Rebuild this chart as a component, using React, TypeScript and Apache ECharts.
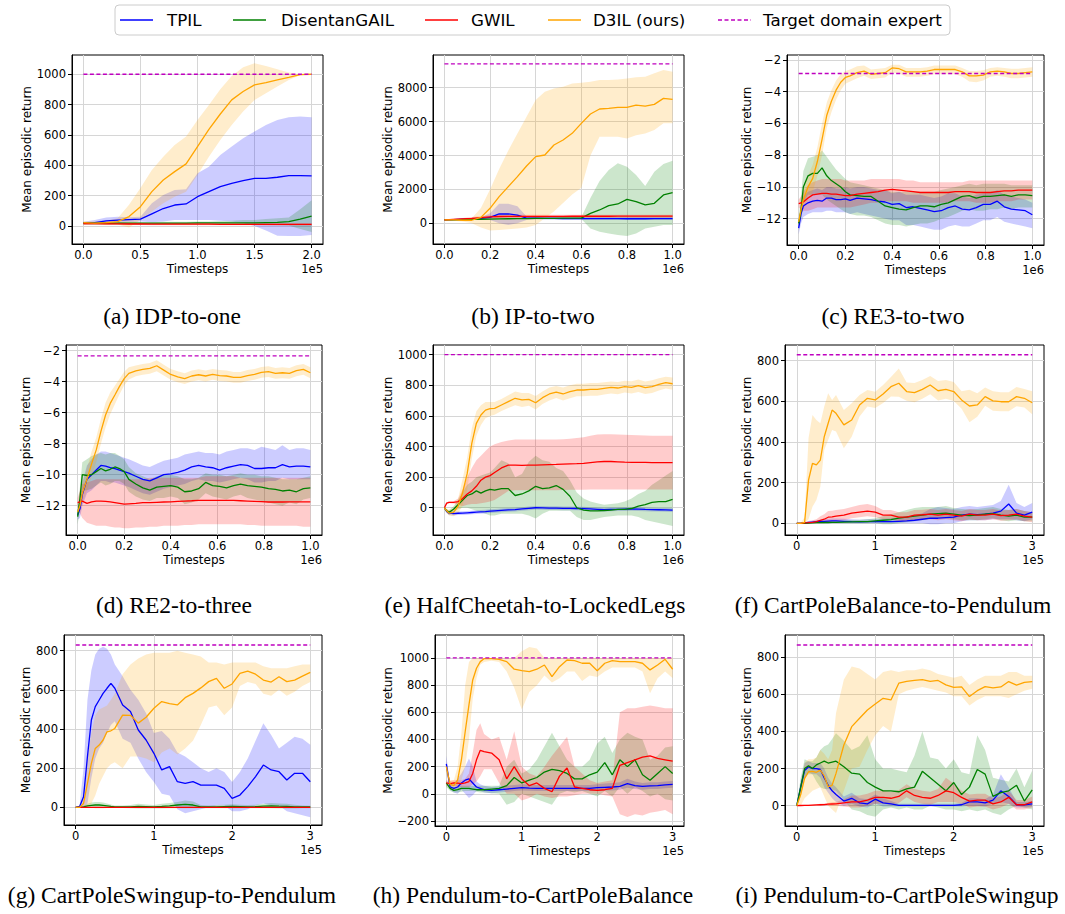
import React, { useEffect, useRef } from "react";
import * as echarts from "echarts";

// ---------------- DATA ----------------
const METHODS = ["TPIL", "DisentanGAIL", "GWIL", "D3IL (ours)"];
const TARGET_LABEL = "Target domain expert";

// (a) IDP-to-one, x in 1e5
const XA = [0, 0.1, 0.2, 0.3, 0.4, 0.5, 0.6, 0.7, 0.8, 0.9, 1.0, 1.1, 1.2, 1.3, 1.4, 1.5, 1.6, 1.7, 1.8, 1.9, 2.0];
const A_TPIL = [22, 22, 33, 38, 42, 45, 80, 115, 138, 145, 193, 226, 259, 281, 299, 314, 314, 321, 332, 332, 330];
const A_TPIL_LO = [10, 10, 15, 20, 25, 30, 25, 30, 40, 40, 40, 40, 35, 30, 20, 0, -30, -65, -66, -66, -60];
const A_TPIL_HI = [28, 40, 55, 60, 58, 60, 150, 204, 237, 242, 347, 391, 468, 523, 578, 622, 666, 699, 716, 721, 716];
const A_DIS = [18, 18, 18, 18, 18, 18, 18, 19, 19, 19, 20, 20, 20, 20, 20, 20, 22, 24, 28, 45, 65];
const A_DIS_LO = [10, 10, 10, 10, 10, 10, 10, 10, 10, 10, 10, 10, 10, 10, 10, 8, 6, 5, 3, -20, -40];
const A_DIS_HI = [25, 25, 25, 25, 25, 25, 25, 27, 28, 28, 30, 30, 32, 35, 40, 40, 45, 50, 55, 110, 170];
const A_GWIL = [15, 15, 14, 14, 13, 13, 12, 12, 12, 12, 12, 12, 11, 11, 11, 11, 10, 10, 10, 10, 10];
const A_GWIL_LO = [8, 8, 7, 7, 6, 6, 5, 5, 5, 5, 5, 5, 4, 4, 4, 4, 3, 3, 3, 3, 3];
const A_GWIL_HI = [22, 22, 21, 21, 20, 20, 19, 19, 19, 19, 19, 19, 18, 18, 18, 18, 17, 17, 17, 17, 17];
const A_D3IL = [22, 18, 22, 29, 62, 127, 226, 303, 358, 409, 523, 637, 738, 831, 886, 930, 945, 963, 980, 998, 1000];
const A_D3IL_LO = [10, 10, 10, 10, -10, 40, 95, 150, 193, 226, 336, 457, 567, 666, 754, 831, 875, 919, 963, 993, 1000];
const A_D3IL_HI = [30, 30, 35, 50, 140, 250, 369, 457, 534, 589, 699, 798, 901, 989, 1046, 1073, 1055, 1033, 1011, 1000, 1000];
const A_TARGET = 1000;

// (b) IP-to-two, x in 1e6
const XB = [0, 0.04, 0.08, 0.12, 0.16, 0.2, 0.24, 0.28, 0.32, 0.36, 0.4, 0.44, 0.48, 0.52, 0.56, 0.6, 0.64, 0.68, 0.72, 0.76, 0.8, 0.84, 0.88, 0.92, 0.96, 1.0];
const B_TPIL = [200, 220, 240, 260, 290, 350, 550, 560, 480, 300, 300, 290, 290, 280, 280, 280, 280, 280, 275, 275, 270, 270, 270, 275, 280, 280];
const B_TPIL_LO = [180, 200, 210, 220, 230, 200, 0, -100, 0, 200, 220, 210, 210, 200, 200, 200, 200, 200, 195, 195, 190, 190, 190, 195, 200, 200];
const B_TPIL_HI = [220, 240, 270, 300, 350, 600, 1150, 1150, 1000, 400, 380, 370, 370, 360, 360, 360, 360, 360, 355, 355, 350, 350, 350, 355, 360, 360];
const B_DIS = [200, 210, 220, 230, 240, 250, 260, 270, 280, 280, 285, 290, 295, 300, 300, 310, 590, 786, 1042, 1140, 1415, 1278, 1081, 1179, 1671, 1808];
const B_DIS_LO = [180, 190, 200, 210, 220, 220, 230, 240, 250, 250, 250, 250, 260, 260, 260, 250, -300, -500, -600, -688, -750, -600, -300, -200, -100, -100];
const B_DIS_HI = [220, 230, 240, 250, 260, 280, 290, 300, 310, 310, 320, 330, 330, 340, 340, 360, 1500, 2500, 3145, 3538, 3341, 2850, 2200, 3046, 3500, 3695];
const B_GWIL = [200, 230, 260, 290, 330, 380, 400, 410, 410, 410, 410, 410, 410, 410, 415, 415, 415, 415, 415, 420, 420, 420, 420, 420, 420, 420];
const B_GWIL_LO = [170, 190, 200, 210, 240, 290, 310, 320, 320, 320, 320, 320, 320, 320, 325, 325, 325, 325, 325, 330, 330, 330, 330, 330, 330, 330];
const B_GWIL_HI = [230, 270, 320, 370, 420, 470, 490, 500, 500, 500, 500, 500, 500, 500, 505, 505, 505, 505, 505, 510, 510, 510, 510, 510, 510, 510];
const B_D3IL = [200, 200, 180, 180, 350, 885, 1572, 2162, 2752, 3381, 3931, 4030, 4619, 4914, 5307, 5897, 6447, 6742, 6781, 6840, 6840, 6978, 6919, 7017, 7371, 7310];
const B_D3IL_LO = [150, 150, 100, 0, -250, -420, -400, -350, -300, -250, -100, 300, 700, 1200, 1700, 2100, 4000, 5100, 5100, 5100, 5000, 5200, 5300, 5500, 5900, 5900];
const B_D3IL_HI = [250, 250, 250, 300, 900, 2000, 3200, 4300, 5300, 6290, 7273, 7764, 7960, 8059, 8255, 8294, 8353, 8452, 8452, 8491, 8550, 8609, 8648, 8845, 9042, 8943];
const B_TARGET = 9400;

// (c) RE3-to-two, (d) RE2-to-three, (e) HalfCheetah-to-LockedLegs, x in 1e6
const XC = [0, 0.01, 0.02, 0.04, 0.06, 0.08, 0.1, 0.12, 0.14, 0.16, 0.18, 0.2, 0.22, 0.25, 0.28, 0.31, 0.34, 0.37, 0.4, 0.43, 0.46, 0.49, 0.52, 0.55, 0.58, 0.61, 0.64, 0.67, 0.7, 0.73, 0.76, 0.79, 0.82, 0.85, 0.88, 0.91, 0.94, 0.97, 1.0];

const C_TPIL = [-12.6, -11.7, -11.2, -11.0, -10.9, -10.85, -10.9, -10.7, -10.7, -10.8, -10.8, -10.75, -10.85, -10.7, -10.75, -10.8, -10.9, -10.95, -11.1, -11.05, -11.3, -11.25, -11.35, -11.45, -11.55, -11.5, -11.3, -11.2, -11.4, -11.45, -11.3, -11.1, -11.1, -10.9, -11.25, -11.4, -11.45, -11.5, -11.75];
const C_TPIL_LO = [-13.0, -12.3, -11.9, -11.7, -11.6, -11.6, -11.6, -11.5, -11.5, -11.6, -11.6, -11.6, -11.7, -11.6, -11.7, -11.8, -11.9, -12.0, -12.1, -12.1, -12.4, -12.4, -12.5, -12.6, -12.7, -12.7, -12.5, -12.4, -12.5, -12.5, -12.3, -12.1, -12.1, -11.9, -12.2, -12.3, -12.4, -12.5, -12.6];
const C_TPIL_HI = [-12.3, -11.2, -10.6, -10.3, -10.2, -10.1, -10.2, -10.0, -10.0, -10.1, -10.1, -10.0, -10.1, -10.0, -10.0, -10.1, -10.2, -10.2, -10.4, -10.3, -10.5, -10.5, -10.5, -10.6, -10.7, -10.6, -10.4, -10.4, -10.6, -10.7, -10.5, -10.4, -10.4, -10.2, -10.5, -10.6, -10.7, -10.8, -11.0];
const C_DIS = [-12.3, -11.5, -10.0, -9.3, -9.15, -9.15, -8.8, -9.3, -9.6, -9.8, -10.0, -10.3, -10.5, -10.55, -10.6, -10.6, -10.9, -11.2, -11.3, -11.4, -11.45, -11.3, -11.2, -11.2, -11.25, -11.1, -11.0, -10.8, -10.6, -10.55, -10.7, -10.6, -10.6, -10.55, -10.5, -10.6, -10.5, -10.5, -10.55];
const C_DIS_LO = [-12.6, -12.0, -11.0, -10.5, -10.5, -10.5, -10.5, -10.8, -11.0, -11.2, -11.4, -11.6, -11.7, -11.8, -11.8, -11.9, -12.1, -12.3, -12.4, -12.4, -12.5, -12.4, -12.3, -12.3, -12.2, -12.0, -11.9, -11.7, -11.5, -11.4, -11.5, -11.5, -11.4, -11.4, -11.3, -11.4, -11.3, -11.3, -11.3];
const C_DIS_HI = [-12.0, -10.5, -9.0, -8.2, -8.1, -8.0, -7.7, -8.1, -8.5, -8.9, -9.2, -9.5, -9.7, -9.8, -9.9, -10.0, -10.1, -10.2, -10.3, -10.3, -10.3, -10.3, -10.3, -10.3, -10.3, -10.2, -10.1, -10.0, -9.9, -9.8, -9.9, -9.8, -9.8, -9.8, -9.8, -9.9, -9.9, -9.9, -9.9];
const C_GWIL = [-11.05, -11.0, -10.95, -10.7, -10.5, -10.45, -10.4, -10.4, -10.45, -10.45, -10.5, -10.55, -10.55, -10.45, -10.4, -10.35, -10.3, -10.2, -10.15, -10.2, -10.25, -10.3, -10.35, -10.35, -10.35, -10.35, -10.35, -10.3, -10.3, -10.3, -10.35, -10.35, -10.35, -10.3, -10.25, -10.25, -10.2, -10.2, -10.2];
const C_GWIL_LO = [-11.3, -11.4, -11.5, -11.5, -11.4, -11.3, -11.3, -11.3, -11.3, -11.3, -11.3, -11.3, -11.3, -11.2, -11.1, -11.0, -11.0, -10.9, -10.9, -10.9, -10.9, -11.0, -11.0, -11.0, -11.0, -11.0, -11.0, -10.9, -10.9, -10.9, -11.0, -11.0, -11.0, -10.9, -10.9, -10.9, -10.8, -10.8, -10.8];
const C_GWIL_HI = [-10.8, -10.6, -10.3, -9.9, -9.7, -9.6, -9.5, -9.5, -9.5, -9.5, -9.5, -9.6, -9.6, -9.6, -9.6, -9.5, -9.5, -9.5, -9.5, -9.5, -9.6, -9.6, -9.7, -9.7, -9.7, -9.7, -9.7, -9.7, -9.7, -9.6, -9.6, -9.6, -9.6, -9.6, -9.6, -9.6, -9.6, -9.6, -9.6];
const C_D3IL = [-12.2, -11.45, -10.8, -10.0, -9.46, -8.4, -7.0, -5.5, -4.6, -3.9, -3.4, -3.1, -3.0, -2.8, -2.7, -2.9, -2.85, -2.8, -2.5, -2.55, -2.75, -2.75, -2.75, -2.7, -2.6, -2.6, -2.6, -2.6, -2.75, -3.0, -3.0, -2.95, -2.75, -2.7, -2.75, -2.85, -2.85, -2.8, -2.75];
const C_D3IL_LO = [-12.5, -11.9, -11.4, -10.8, -10.3, -9.3, -8.0, -6.3, -5.3, -4.5, -3.9, -3.5, -3.35, -3.15, -3.0, -3.2, -3.15, -3.1, -2.8, -2.85, -3.05, -3.05, -3.05, -3.0, -2.9, -2.9, -2.9, -2.9, -3.05, -3.35, -3.4, -3.3, -3.05, -3.0, -3.05, -3.15, -3.15, -3.1, -3.05];
const C_D3IL_HI = [-12.0, -11.0, -10.2, -9.3, -8.6, -7.5, -6.0, -4.7, -3.9, -3.3, -2.9, -2.7, -2.6, -2.4, -2.35, -2.6, -2.55, -2.5, -2.3, -2.3, -2.5, -2.5, -2.5, -2.45, -2.35, -2.35, -2.35, -2.35, -2.5, -2.7, -2.7, -2.65, -2.5, -2.45, -2.5, -2.55, -2.55, -2.5, -2.45];
const C_TARGET = -2.85;

const D_TPIL = [-12.6, -12.2, -11.3, -10.3, -10.0, -9.7, -9.4, -9.45, -9.55, -9.6, -9.7, -9.8, -9.9, -10.1, -10.3, -10.4, -10.2, -10.0, -9.95, -9.85, -9.7, -9.5, -9.4, -9.5, -9.55, -9.7, -9.55, -9.45, -9.35, -9.4, -9.6, -9.6, -9.55, -9.55, -9.35, -9.5, -9.45, -9.45, -9.5];
const D_TPIL_LO = [-12.9, -12.8, -12.0, -11.2, -11.0, -10.7, -10.4, -10.4, -10.5, -10.5, -10.6, -10.7, -10.8, -11.0, -11.2, -11.3, -11.1, -10.9, -10.8, -10.7, -10.6, -10.4, -10.3, -10.4, -10.4, -10.5, -10.4, -10.3, -10.2, -10.3, -10.5, -10.5, -10.4, -10.4, -10.2, -10.3, -10.3, -10.3, -10.3];
const D_TPIL_HI = [-12.3, -11.6, -10.5, -9.4, -9.0, -8.7, -8.5, -8.5, -8.6, -8.7, -8.8, -8.9, -9.0, -9.2, -9.4, -9.5, -9.3, -9.1, -9.0, -8.9, -8.7, -8.6, -8.5, -8.6, -8.6, -8.7, -8.5, -8.4, -8.3, -8.3, -8.4, -8.2, -8.3, -8.4, -8.1, -8.4, -8.3, -8.3, -8.4];
const D_DIS = [-12.7, -11.5, -10.0, -10.05, -10.0, -9.8, -9.6, -9.75, -9.65, -9.5, -9.6, -9.8, -10.3, -10.6, -10.85, -11.0, -10.8, -10.75, -10.7, -10.8, -11.1, -11.05, -10.9, -10.5, -10.7, -10.75, -10.85, -10.7, -10.6, -10.7, -10.75, -10.8, -10.9, -10.95, -11.05, -11.0, -11.1, -10.9, -10.85];
const D_DIS_LO = [-13.2, -12.3, -11.0, -11.0, -10.9, -10.7, -10.5, -10.7, -10.6, -10.4, -10.4, -10.6, -11.1, -11.4, -11.6, -11.7, -11.5, -11.5, -11.4, -11.5, -11.9, -11.8, -11.6, -11.2, -11.4, -11.5, -11.6, -11.4, -11.3, -11.5, -11.6, -11.7, -11.8, -11.9, -12.0, -11.8, -11.9, -11.6, -11.5];
const D_DIS_HI = [-12.3, -10.8, -9.2, -9.0, -8.8, -8.7, -8.6, -8.7, -8.6, -8.6, -8.8, -9.0, -9.5, -9.9, -10.1, -10.3, -10.1, -10.0, -10.0, -10.1, -10.3, -10.3, -10.2, -9.9, -10.0, -10.0, -10.1, -10.0, -9.9, -10.0, -10.0, -10.1, -10.1, -10.2, -10.3, -10.3, -10.3, -10.2, -10.1];
const D_GWIL = [-11.8, -11.75, -11.7, -11.85, -11.75, -11.7, -11.7, -11.72, -11.75, -11.8, -11.85, -11.9, -11.88, -11.85, -11.8, -11.8, -11.78, -11.76, -11.75, -11.72, -11.7, -11.68, -11.65, -11.65, -11.66, -11.66, -11.65, -11.66, -11.68, -11.7, -11.72, -11.74, -11.76, -11.76, -11.76, -11.75, -11.75, -11.75, -11.75];
const D_GWIL_LO = [-12.1, -12.5, -12.8, -13.1, -13.2, -13.3, -13.3, -13.3, -13.35, -13.4, -13.4, -13.45, -13.45, -13.4, -13.4, -13.35, -13.35, -13.3, -13.3, -13.3, -13.25, -13.25, -13.2, -13.2, -13.2, -13.2, -13.2, -13.2, -13.2, -13.25, -13.25, -13.3, -13.3, -13.3, -13.3, -13.3, -13.3, -13.35, -13.35];
const D_GWIL_HI = [-11.5, -11.0, -10.6, -10.5, -10.4, -10.3, -10.3, -10.3, -10.3, -10.3, -10.3, -10.3, -10.3, -10.3, -10.3, -10.2, -10.2, -10.2, -10.2, -10.2, -10.2, -10.2, -10.2, -10.1, -10.1, -10.1, -10.1, -10.1, -10.2, -10.2, -10.2, -10.2, -10.2, -10.2, -10.2, -10.2, -10.2, -10.2, -10.2];
const D_D3IL = [-12.4, -12.0, -11.2, -10.3, -9.3, -8.4, -7.2, -6.15, -5.4, -4.86, -4.3, -3.8, -3.46, -3.3, -3.2, -3.14, -2.97, -3.25, -3.53, -3.68, -3.8, -3.63, -3.55, -3.63, -3.53, -3.6, -3.63, -3.72, -3.72, -3.6, -3.53, -3.4, -3.35, -3.46, -3.42, -3.46, -3.29, -3.2, -3.42];
const D_D3IL_LO = [-12.6, -12.4, -11.8, -11.0, -10.1, -9.2, -8.0, -6.95, -6.1, -5.46, -4.8, -4.25, -3.86, -3.65, -3.55, -3.49, -3.32, -3.6, -3.88, -4.03, -4.15, -3.98, -3.9, -3.98, -3.88, -3.95, -3.98, -4.07, -4.07, -3.95, -3.88, -3.75, -3.7, -3.81, -3.77, -3.81, -3.64, -3.55, -3.77];
const D_D3IL_HI = [-12.2, -11.6, -10.6, -9.6, -8.5, -7.6, -6.4, -5.35, -4.7, -4.26, -3.8, -3.35, -3.06, -2.95, -2.85, -2.79, -2.62, -2.9, -3.18, -3.33, -3.45, -3.28, -3.2, -3.28, -3.18, -3.25, -3.28, -3.37, -3.37, -3.25, -3.18, -3.05, -3.0, -3.11, -3.07, -3.11, -2.94, -2.85, -3.07];
const D_TARGET = -2.33;

const E_TPIL = [0, -25, -35, -38, -36, -35, -33, -31, -29, -27, -25, -22, -20, -17, -14, -12, -8, -4, 0, -1, -2, -3, -4, -4, -5, -6, -8, -10, -12, -11, -10, -9, -8, -9, -11, -12, -13, -14, -15];
const E_TPIL_LO = [0, -35, -48, -51, -48, -47, -45, -43, -41, -39, -37, -34, -32, -29, -26, -24, -20, -16, -12, -13, -14, -15, -16, -16, -17, -18, -20, -22, -24, -23, -22, -21, -20, -21, -23, -24, -25, -26, -27];
const E_TPIL_HI = [0, -15, -22, -25, -24, -23, -21, -19, -17, -15, -13, -10, -8, -5, -2, 0, 4, 8, 12, 11, 10, 9, 8, 8, 7, 6, 4, 2, 0, 1, 2, 3, 4, 3, 1, 0, -1, -2, -3];
const E_DIS = [0, -20, -30, -10, 20, 50, 80, 90, 110, 95, 110, 120, 115, 125, 125, 80, 90, 110, 140, 125, 130, 145, 120, 75, 0, -15, -20, -20, -18, -15, -10, -10, -5, 10, 20, 35, 40, 40, 55];
const E_DIS_LO = [0, -30, -45, -30, -10, 0, 0, -10, -20, -30, -40, -50, -50, -40, -40, -40, -40, -50, -70, -40, -20, -20, -20, -20, -60, -80, -80, -70, -60, -55, -50, -50, -50, -60, -80, -90, -100, -110, -120];
const E_DIS_HI = [0, -10, -15, 10, 50, 100, 150, 170, 200, 210, 220, 230, 260, 310, 290, 200, 220, 300, 340, 310, 300, 260, 240, 180, 100, 60, 40, 30, 20, 25, 30, 40, 60, 90, 110, 150, 180, 210, 240];
const E_GWIL = [0, 30, 35, 35, 40, 60, 90, 110, 140, 180, 200, 210, 230, 260, 278, 278, 277, 278, 278, 280, 282, 283, 285, 287, 288, 290, 295, 300, 302, 302, 300, 298, 297, 296, 296, 295, 295, 295, 295];
const E_GWIL_LO = [0, 25, 30, 28, 22, 10, 20, 25, 25, 30, 35, 40, 50, 80, 110, 115, 115, 115, 115, 115, 115, 115, 116, 117, 118, 118, 119, 120, 120, 120, 120, 120, 120, 120, 120, 120, 120, 120, 120];
const E_GWIL_HI = [0, 35, 40, 42, 60, 120, 200, 260, 310, 340, 370, 400, 415, 430, 440, 445, 445, 445, 445, 445, 445, 445, 447, 450, 455, 460, 470, 478, 480, 480, 478, 476, 475, 473, 472, 470, 470, 470, 470];
const E_D3IL = [0, -20, -35, -30, 10, 100, 224, 420, 551, 606, 638, 647, 649, 671, 693, 715, 704, 708, 686, 719, 743, 756, 743, 758, 769, 769, 773, 773, 780, 786, 782, 791, 786, 797, 784, 791, 806, 817, 810];
const E_D3IL_LO = [0, -35, -50, -55, -40, 20, 120, 320, 470, 540, 585, 600, 608, 632, 651, 670, 658, 666, 642, 678, 700, 717, 701, 716, 728, 728, 731, 731, 740, 747, 742, 752, 746, 756, 743, 750, 766, 779, 770];
const E_D3IL_HI = [0, -5, -15, -5, 60, 190, 330, 520, 630, 670, 690, 690, 690, 710, 735, 760, 750, 750, 730, 760, 785, 795, 785, 800, 810, 810, 815, 815, 820, 825, 822, 830, 826, 838, 825, 832, 846, 855, 850];
const E_TARGET = 1000;

// (f)-(i), x in 1e5
const XF = [0, 0.05, 0.1, 0.15, 0.2, 0.25, 0.3, 0.35, 0.4, 0.45, 0.5, 0.6, 0.7, 0.8, 0.9, 1.0, 1.1, 1.2, 1.3, 1.4, 1.5, 1.6, 1.7, 1.8, 1.9, 2.0, 2.1, 2.2, 2.3, 2.4, 2.5, 2.6, 2.7, 2.8, 2.9, 3.0];

const F_TPIL = [0, 0, 2, 4, 6, 8, 9, 10, 11, 12, 12, 10, 8, 7, 8, 8, 8, 8, 10, 12, 15, 20, 25, 25, 28, 30, 40, 45, 42, 45, 50, 60, 95, 50, 40, 55];
const F_TPIL_LO = [0, 0, 0, 0, 0, 0, 0, 0, 0, 0, 0, 0, 0, 0, 0, 0, 0, 0, 0, 0, 0, 0, -5, -5, 0, 0, 10, 15, 15, 15, 20, 20, 20, 15, 10, 20];
const F_TPIL_HI = [0, 2, 5, 8, 12, 15, 18, 20, 22, 24, 24, 22, 20, 18, 20, 20, 22, 25, 30, 35, 40, 50, 70, 80, 75, 70, 80, 85, 80, 85, 90, 110, 190, 100, 80, 100];
const F_DIS = [0, 0, 0, 1, 2, 3, 3, 4, 4, 5, 5, 6, 7, 8, 8, 12, 15, 18, 25, 30, 35, 40, 45, 48, 50, 45, 40, 38, 40, 45, 48, 40, 35, 40, 30, 30];
const F_DIS_LO = [0, 0, 0, 0, 0, 0, 0, 0, 0, 0, 0, 0, 0, 0, 0, 0, -5, -5, 0, 5, 10, 15, 20, 25, 25, 20, 15, 15, 15, 20, 25, 15, 10, 15, 10, 10];
const F_DIS_HI = [0, 0, 2, 4, 6, 8, 9, 10, 10, 12, 12, 14, 16, 18, 20, 25, 35, 45, 55, 65, 75, 80, 80, 80, 85, 75, 70, 68, 70, 75, 80, 70, 65, 70, 60, 55];
const F_GWIL = [0, 0, 2, 3, 5, 8, 15, 20, 30, 32, 35, 40, 50, 55, 60, 55, 40, 40, 30, 30, 40, 42, 45, 40, 45, 40, 35, 45, 40, 40, 45, 38, 40, 45, 35, 30];
const F_GWIL_LO = [0, 0, 0, 0, 0, 0, 0, 0, 5, 8, 10, 15, 25, 30, 35, 30, 20, 20, 10, 10, 15, 17, 20, 15, 20, 15, 10, 20, 15, 15, 20, 13, 15, 20, 10, 5];
const F_GWIL_HI = [0, 2, 7, 11, 15, 20, 35, 45, 60, 62, 65, 70, 80, 90, 95, 85, 65, 65, 55, 55, 65, 67, 70, 65, 70, 65, 60, 70, 65, 65, 70, 63, 65, 70, 60, 55];
const F_D3IL = [0, 0, 5, 213, 295, 287, 311, 426, 492, 557, 541, 484, 508, 582, 615, 607, 636, 672, 689, 648, 643, 659, 680, 652, 659, 648, 607, 577, 582, 623, 602, 598, 598, 623, 615, 593];
const F_D3IL_LO = [0, 0, 0, 20, 82, 115, 180, 361, 410, 459, 451, 369, 426, 525, 574, 567, 592, 624, 623, 603, 596, 613, 635, 604, 613, 601, 564, 497, 524, 578, 554, 551, 551, 576, 570, 536];
const F_D3IL_HI = [0, 2, 30, 420, 533, 508, 492, 574, 640, 607, 631, 557, 590, 631, 656, 647, 680, 720, 762, 693, 690, 705, 725, 700, 705, 695, 650, 657, 640, 668, 650, 645, 645, 670, 660, 650];
const F_TARGET = 829;

const G_TPIL = [0, 5, 54, 259, 446, 514, 548, 582, 608, 633, 608, 523, 489, 395, 344, 276, 191, 208, 131, 123, 131, 114, 114, 114, 97, 46, 63, 106, 157, 216, 191, 182, 140, 174, 174, 131];
const G_TPIL_LO = [0, 0, 0, 20, 150, 250, 300, 330, 380, 420, 440, 350, 330, 250, 180, 130, 70, 60, -10, -30, -20, -10, 0, 10, 10, -20, -20, -10, 10, 20, 10, 10, -20, -30, -40, -50];
const G_TPIL_HI = [0, 10, 200, 550, 700, 780, 810, 820, 810, 780, 730, 670, 600, 550, 480, 380, 390, 350, 280, 260, 230, 200, 180, 200, 180, 130, 180, 250, 340, 430, 370, 300, 330, 360, 350, 320];
const G_DIS = [0, 0, 2, 8, 10, 12, 12, 10, 8, 5, 3, 3, 3, 5, 4, 3, 5, 8, 12, 15, 12, 3, 2, 3, 4, 5, 4, 3, 4, 6, 8, 6, 5, 3, 2, 2];
const G_DIS_LO = [0, 0, 0, 0, -2, -4, -4, -4, -3, -3, -3, -3, -4, -6, -6, -6, -6, -5, -4, -4, -5, -4, -4, -4, -4, -4, -4, -4, -4, -4, -4, -6, -6, -6, -4, -4];
const G_DIS_HI = [0, 2, 8, 18, 25, 28, 28, 25, 20, 15, 10, 10, 12, 18, 15, 12, 18, 22, 28, 35, 30, 12, 10, 12, 14, 16, 14, 12, 14, 18, 22, 20, 18, 14, 10, 8];
const G_GWIL = [0, 0, 0, 0, 0, 0, 0, 0, 0, 0, 0, 0, 0, 0, 0, 0, 0, 0, 0, 0, 0, 0, 0, 0, 0, 0, 0, 0, 0, 0, 0, 0, 0, 0, 0, 0];
const G_GWIL_LO = [0, -2, -2, -2, -2, -2, -2, -2, -2, -2, -2, -2, -2, -2, -2, -2, -2, -2, -2, -2, -2, -2, -2, -2, -2, -2, -2, -2, -2, -2, -2, -2, -2, -2, -2, -2];
const G_GWIL_HI = [0, 2, 2, 2, 2, 2, 2, 2, 2, 2, 2, 2, 2, 2, 2, 2, 2, 2, 2, 2, 2, 2, 2, 2, 2, 2, 2, 2, 2, 2, 2, 2, 2, 2, 2, 2];
const G_D3IL = [0, 0, 20, 122, 225, 301, 318, 344, 386, 391, 403, 471, 470, 430, 460, 506, 540, 530, 523, 560, 582, 610, 642, 659, 608, 630, 684, 696, 680, 650, 640, 667, 642, 650, 670, 689];
const G_D3IL_LO = [0, 0, 0, 0, 20, 60, 120, 160, 200, 220, 230, 200, 260, 260, 250, 230, 280, 300, 270, 300, 340, 420, 510, 520, 470, 510, 620, 640, 630, 580, 570, 600, 570, 590, 620, 640];
const G_D3IL_HI = [0, 0, 60, 250, 380, 470, 500, 510, 520, 550, 580, 680, 730, 760, 780, 790, 790, 790, 800, 790, 780, 770, 740, 740, 730, 740, 740, 740, 740, 720, 710, 710, 710, 720, 730, 730];
const G_TARGET = 829;

const H_TPIL = [220, 50, 40, 50, 80, 100, 110, 80, 50, 40, 30, 25, 30, 35, 40, 45, 42, 40, 40, 40, 40, 40, 40, 40, 40, 45, 48, 50, 55, 75, 60, 55, 58, 60, 65, 70];
const H_TPIL_LO = [160, 30, 10, 0, 30, 0, -30, -10, 20, 20, 10, 5, 10, 15, 20, 25, 22, 20, 20, 20, 20, 20, 20, 20, 20, 25, 25, 25, 30, 45, 35, 30, 35, 35, 40, 45];
const H_TPIL_HI = [280, 70, 80, 110, 150, 200, 260, 200, 90, 70, 60, 50, 55, 60, 65, 70, 67, 65, 65, 65, 65, 65, 65, 65, 65, 70, 75, 80, 85, 110, 90, 80, 85, 85, 90, 95];
const H_DIS = [80, 40, 25, 30, 40, 40, 40, 35, 30, 30, 30, 35, 40, 60, 120, 80, 100, 120, 160, 180, 170, 150, 110, 110, 140, 160, 230, 140, 250, 200, 250, 140, 100, 150, 200, 150];
const H_DIS_LO = [50, 20, 10, 10, 15, 20, 20, 20, 15, 10, 10, 5, 0, -80, -60, 0, -20, -40, -60, -80, 0, 20, 10, 20, 0, -20, 20, -20, 50, 0, 50, 20, -20, 0, -40, -50];
const H_DIS_HI = [100, 60, 50, 55, 60, 60, 60, 60, 60, 60, 60, 60, 60, 200, 250, 150, 180, 250, 350, 450, 350, 250, 200, 200, 250, 370, 420, 300, 400, 450, 420, 400, 250, 280, 340, 350];
const H_GWIL = [80, 75, 80, 78, 75, 80, 90, 150, 250, 320, 310, 300, 250, 110, 200, 110, 60, 80, 40, 15, 130, 190, 50, 40, 30, 25, 30, 40, 210, 230, 250, 270, 280, 260, 250, 240];
const H_GWIL_LO = [60, 55, 60, 55, 50, 50, 50, 70, 90, 130, 180, 180, 80, 0, 0, -50, -30, 0, -20, -30, -20, -20, -10, 0, 0, 0, -10, -20, -150, -170, -150, -160, -140, -130, -120, -150];
const H_GWIL_HI = [100, 95, 100, 100, 100, 110, 150, 300, 470, 520, 440, 400, 420, 250, 460, 200, 150, 130, 200, 280, 350, 420, 200, 150, 100, 80, 90, 100, 600, 630, 630, 640, 650, 640, 630, 630];
const H_D3IL = [200, 70, 60, 100, 249, 457, 654, 838, 924, 973, 995, 995, 990, 973, 917, 906, 899, 917, 948, 862, 936, 985, 980, 961, 961, 906, 961, 980, 973, 973, 973, 961, 912, 948, 990, 917];
const H_D3IL_LO = [150, 40, 30, 40, 100, 200, 400, 700, 850, 950, 970, 980, 970, 900, 780, 620, 750, 800, 870, 820, 850, 900, 900, 830, 870, 860, 900, 930, 930, 930, 930, 900, 740, 850, 900, 850];
const H_D3IL_HI = [210, 100, 100, 200, 450, 800, 970, 1000, 1000, 1000, 1000, 1000, 1000, 1000, 1000, 1050, 1080, 1070, 1000, 1000, 1000, 1000, 1000, 1000, 1000, 1000, 1000, 1000, 1000, 1000, 1000, 1000, 1000, 1000, 1000, 1000];
const H_TARGET = 1000;

const I_TPIL = [0, 100, 190, 210, 200, 200, 195, 150, 110, 80, 60, 25, 40, 15, 10, 35, 15, 10, 2, 2, 2, 2, 2, 2, 2, 2, 5, 20, 20, 15, 30, 80, 50, 5, 5, 10];
const I_TPIL_LO = [0, 70, 150, 180, 170, 170, 150, 100, 70, 40, 20, 0, 10, -5, -10, 10, -5, -5, -5, -5, -5, -5, -5, -5, -5, -5, -5, 0, 0, -5, 10, 20, 10, -10, -10, -5];
const I_TPIL_HI = [0, 130, 230, 240, 230, 230, 230, 200, 150, 120, 100, 50, 70, 40, 35, 60, 40, 25, 10, 10, 10, 10, 10, 10, 10, 10, 15, 40, 40, 35, 60, 170, 100, 20, 20, 25];
const I_DIS = [0, 100, 200, 215, 200, 220, 230, 240, 230, 235, 240, 210, 175, 170, 125, 100, 80, 80, 75, 90, 100, 185, 150, 115, 80, 125, 60, 100, 195, 170, 50, 70, 80, 110, 25, 85];
const I_DIS_LO = [0, 50, 150, 170, 170, 130, 100, 90, 90, 85, 80, 30, -20, -30, -50, -60, -20, -10, -20, -10, -20, -20, 0, -10, -20, -20, -30, -20, -30, -20, -40, -50, -20, 0, -10, -20];
const I_DIS_HI = [0, 150, 250, 240, 240, 260, 300, 320, 330, 360, 390, 350, 300, 320, 380, 250, 200, 200, 190, 180, 270, 400, 260, 250, 200, 250, 180, 170, 380, 300, 150, 140, 130, 200, 100, 190];
const I_GWIL = [0, 1, 2, 2, 3, 4, 5, 6, 8, 9, 10, 15, 20, 20, 30, 45, 45, 40, 50, 80, 55, 45, 40, 55, 80, 70, 45, 25, 30, 30, 10, 20, 45, 5, 5, 20];
const I_GWIL_LO = [0, 0, 0, 0, 0, 0, 0, 0, 0, 0, 0, -5, -10, -10, 0, 10, 10, 5, 15, 45, 20, 10, 5, 20, 20, 20, 10, -10, -5, -5, -20, -10, 10, -20, -20, -10];
const I_GWIL_HI = [0, 3, 5, 5, 6, 8, 10, 12, 15, 18, 20, 35, 55, 55, 65, 80, 80, 75, 85, 115, 90, 80, 75, 90, 150, 120, 80, 60, 65, 65, 40, 50, 80, 30, 30, 50];
const I_D3IL = [0, 60, 147, 183, 185, 180, 192, 160, 102, 110, 174, 327, 426, 471, 516, 548, 579, 570, 660, 670, 675, 680, 670, 675, 651, 638, 640, 588, 620, 642, 635, 640, 669, 650, 665, 669];
const I_D3IL_LO = [0, 0, 40, 60, 80, 90, 100, 50, 0, -20, -40, 80, 200, 210, 300, 380, 430, 400, 600, 620, 630, 640, 630, 620, 610, 590, 590, 540, 570, 590, 590, 590, 580, 600, 620, 630];
const I_D3IL_HI = [0, 100, 230, 250, 250, 260, 300, 280, 250, 300, 500, 680, 750, 740, 710, 680, 720, 730, 720, 730, 730, 740, 730, 710, 700, 690, 700, 650, 680, 700, 700, 700, 720, 720, 700, 700];
const I_TARGET = 866;

// tick labels
const XT_A = [0, 0.5, 1.0, 1.5, 2.0];
const XT_1E6 = [0, 0.2, 0.4, 0.6, 0.8, 1.0];
const XT_3E5 = [0, 1, 2, 3];
const YT_A = [0, 200, 400, 600, 800, 1000];
const YT_B = [0, 2000, 4000, 6000, 8000];
const YT_C = [-12, -10, -8, -6, -4, -2];
const YT_E = [0, 200, 400, 600, 800, 1000];
const YT_F = [0, 200, 400, 600, 800];
const YT_H = [-200, 0, 200, 400, 600, 800, 1000];

const CAPTIONS = [
  "(a) IDP-to-one", "(b) IP-to-two", "(c) RE3-to-two",
  "(d) RE2-to-three", "(e) HalfCheetah-to-LockedLegs", "(f) CartPoleBalance-to-Pendulum",
  "(g) CartPoleSwingup-to-Pendulum", "(h) Pendulum-to-CartPoleBalance", "(i) Pendulum-to-CartPoleSwingup",
];

// ---------------- assembly ----------------
const PANELS = [
  { x: XA, s: [[A_TPIL, A_TPIL_LO, A_TPIL_HI], [A_DIS, A_DIS_LO, A_DIS_HI], [A_GWIL, A_GWIL_LO, A_GWIL_HI], [A_D3IL, A_D3IL_LO, A_D3IL_HI]], target: A_TARGET, xt: XT_A, yt: YT_A, xDec: 1, sci: "1e5" },
  { x: XB, s: [[B_TPIL, B_TPIL_LO, B_TPIL_HI], [B_DIS, B_DIS_LO, B_DIS_HI], [B_GWIL, B_GWIL_LO, B_GWIL_HI], [B_D3IL, B_D3IL_LO, B_D3IL_HI]], target: B_TARGET, xt: XT_1E6, yt: YT_B, xDec: 1, sci: "1e6" },
  { x: XC, s: [[C_TPIL, C_TPIL_LO, C_TPIL_HI], [C_DIS, C_DIS_LO, C_DIS_HI], [C_GWIL, C_GWIL_LO, C_GWIL_HI], [C_D3IL, C_D3IL_LO, C_D3IL_HI]], target: C_TARGET, xt: XT_1E6, yt: YT_C, xDec: 1, sci: "1e6" },
  { x: XC, s: [[D_TPIL, D_TPIL_LO, D_TPIL_HI], [D_DIS, D_DIS_LO, D_DIS_HI], [D_GWIL, D_GWIL_LO, D_GWIL_HI], [D_D3IL, D_D3IL_LO, D_D3IL_HI]], target: D_TARGET, xt: XT_1E6, yt: YT_C, xDec: 1, sci: "1e6" },
  { x: XC, s: [[E_TPIL, E_TPIL_LO, E_TPIL_HI], [E_DIS, E_DIS_LO, E_DIS_HI], [E_GWIL, E_GWIL_LO, E_GWIL_HI], [E_D3IL, E_D3IL_LO, E_D3IL_HI]], target: E_TARGET, xt: XT_1E6, yt: YT_E, xDec: 1, sci: "1e6" },
  { x: XF, s: [[F_TPIL, F_TPIL_LO, F_TPIL_HI], [F_DIS, F_DIS_LO, F_DIS_HI], [F_GWIL, F_GWIL_LO, F_GWIL_HI], [F_D3IL, F_D3IL_LO, F_D3IL_HI]], target: F_TARGET, xt: XT_3E5, yt: YT_F, xDec: 0, sci: "1e5" },
  { x: XF, s: [[G_TPIL, G_TPIL_LO, G_TPIL_HI], [G_DIS, G_DIS_LO, G_DIS_HI], [G_GWIL, G_GWIL_LO, G_GWIL_HI], [G_D3IL, G_D3IL_LO, G_D3IL_HI]], target: G_TARGET, xt: XT_3E5, yt: YT_F, xDec: 0, sci: "1e5" },
  { x: XF, s: [[H_TPIL, H_TPIL_LO, H_TPIL_HI], [H_DIS, H_DIS_LO, H_DIS_HI], [H_GWIL, H_GWIL_LO, H_GWIL_HI], [H_D3IL, H_D3IL_LO, H_D3IL_HI]], target: H_TARGET, xt: XT_3E5, yt: YT_H, xDec: 0, sci: "1e5" },
  { x: XF, s: [[I_TPIL, I_TPIL_LO, I_TPIL_HI], [I_DIS, I_DIS_LO, I_DIS_HI], [I_GWIL, I_GWIL_LO, I_GWIL_HI], [I_D3IL, I_D3IL_LO, I_D3IL_HI]], target: I_TARGET, xt: XT_3E5, yt: YT_F, xDec: 0, sci: "1e5" },
];

// layout (pixels) and axis extents
const LAYOUT = [
  { left: 72, top: 55, width: 251, height: 189, xMin: -0.1, xMax: 2.1, yMin: -119, yMax: 1127, nameGap: 39 },
  { left: 433, top: 55, width: 251, height: 189, xMin: -0.05, xMax: 1.05, yMin: -1221, yMax: 9929, nameGap: 39 },
  { left: 787, top: 55, width: 257, height: 190, xMin: -0.05, xMax: 1.05, yMin: -13.66, yMax: -1.685, nameGap: 33 },
  { left: 66, top: 345, width: 256, height: 190, xMin: -0.05, xMax: 1.05, yMin: -13.89, yMax: -1.63, nameGap: 32 },
  { left: 433, top: 345, width: 251, height: 190, xMin: -0.05, xMax: 1.05, yMin: -178, yMax: 1063, nameGap: 39 },
  { left: 785, top: 345, width: 259, height: 190, xMin: -0.15, xMax: 3.15, yMin: -57.5, yMax: 877, nameGap: 32 },
  { left: 64, top: 635, width: 258, height: 190, xMin: -0.15, xMax: 3.15, yMin: -90, yMax: 880, nameGap: 31.5 },
  { left: 435, top: 635, width: 249, height: 191, xMin: -0.15, xMax: 3.15, yMin: -237, yMax: 1169, nameGap: 41.5 },
  { left: 785, top: 635, width: 259, height: 191, xMin: -0.15, xMax: 3.15, yMin: -109.5, yMax: 920, nameGap: 32 },
];
const CAPTION_POS = [
  [172, 316], [533, 316], [893, 316],
  [174, 605], [535, 605], [893, 605],
  [172, 895], [533, 895], [897, 895],
];

const LINE_COLORS = ["#0000ff", "#008000", "#ff0000", "#ffa500"];
const BAND_COLORS = ["rgba(0,0,255,0.2)", "rgba(0,128,0,0.2)", "rgba(255,0,0,0.2)", "rgba(255,165,0,0.2)"];
const TARGET_COLOR = "#bf00bf";
const FONT = "DejaVu Sans";

const fmt = (dec: number) => (v: number) => (v < 0 ? "\u2212" : "") + Math.abs(v).toFixed(dec);

function buildOption() {
  const grid: any[] = [];
  const xAxis: any[] = [];
  const yAxis: any[] = [];
  const series: any[] = [];
  const graphic: any[] = [];

  PANELS.forEach((P, i) => {
    const L = LAYOUT[i];
    grid.push({ left: L.left, top: L.top, width: L.width, height: L.height, show: true, borderColor: "#000", borderWidth: 1, backgroundColor: "transparent" });
    xAxis.push({
      type: "value", gridIndex: i, min: L.xMin, max: L.xMax,
      name: "Timesteps", nameLocation: "middle", nameGap: 19,
      nameTextStyle: { fontSize: 12, fontFamily: FONT, color: "#000" },
      axisLine: { show: true, onZero: false, lineStyle: { color: "#000", width: 1 } },
      axisTick: { show: true, length: 4, customValues: P.xt, lineStyle: { color: "#000", width: 1 } },
      axisLabel: { customValues: P.xt, formatter: fmt(P.xDec), fontSize: 11.5, fontFamily: FONT, color: "#000", margin: 5 },
      splitLine: { show: true, lineStyle: { color: "#d6d6d6", width: 1 } },
    });
    yAxis.push({
      type: "value", gridIndex: i, min: L.yMin, max: L.yMax,
      name: "Mean episodic return", nameLocation: "middle", nameGap: L.nameGap, nameRotate: 90,
      nameTextStyle: { fontSize: 12, fontFamily: FONT, color: "#000" },
      axisLine: { show: true, onZero: false, lineStyle: { color: "#000", width: 1 } },
      axisTick: { show: true, length: 4, customValues: P.yt, lineStyle: { color: "#000", width: 1 } },
      axisLabel: { customValues: P.yt, formatter: fmt(0), fontSize: 11.5, fontFamily: FONT, color: "#000", margin: 6 },
      splitLine: { show: true, lineStyle: { color: "#d6d6d6", width: 1 } },
    });
    const X = P.x;
    // bands
    P.s.forEach(([, lo, hi], k) => {
      series.push({
        type: "custom", xAxisIndex: i, yAxisIndex: i, z: 1, silent: true, clip: true,
        data: X.map((x, j) => [x, lo[j], hi[j]]),
        encode: { x: 0, y: [1, 2] },
        renderItem: (params: any, api: any) => {
          if (params.dataIndex !== 0) return { type: "group", children: [] };
          const pts: number[][] = [];
          for (let j = 0; j < X.length; j++) pts.push(api.coord([X[j], hi[j]]));
          for (let j = X.length - 1; j >= 0; j--) pts.push(api.coord([X[j], lo[j]]));
          return { type: "polygon", shape: { points: pts }, style: { fill: BAND_COLORS[k], stroke: "none" } };
        },
      });
    });
    // mean lines
    P.s.forEach(([m], k) => {
      series.push({
        type: "line", name: METHODS[k], xAxisIndex: i, yAxisIndex: i, z: 3, silent: true,
        data: X.map((x, j) => [x, m[j]]), showSymbol: false, symbol: "none",
        lineStyle: { color: LINE_COLORS[k], width: 1.3 }, itemStyle: { color: LINE_COLORS[k] },
      });
    });
    // target expert
    series.push({
      type: "line", name: TARGET_LABEL, xAxisIndex: i, yAxisIndex: i, z: 4, silent: true,
      data: [[0, P.target], [X[X.length - 1], P.target]], showSymbol: false, symbol: "none",
      lineStyle: { color: TARGET_COLOR, width: 1.3, type: [4, 2.5] },
    });
    // offset text
    graphic.push({
      type: "text", silent: true,
      style: { text: P.sci, x: L.left + L.width, y: L.top + L.height + 25, textAlign: "right", textVerticalAlign: "middle", font: `11.5px "${FONT}"`, fill: "#000" },
    });
    // caption
    graphic.push({
      type: "text", silent: true,
      style: { text: CAPTIONS[i], x: CAPTION_POS[i][0], y: CAPTION_POS[i][1], textAlign: "center", textVerticalAlign: "middle", font: `23.5px "Liberation Serif"`, fill: "#000" },
    });
  });

  // legend
  const LY = 20;
  graphic.push({ type: "rect", silent: true, shape: { x: 115, y: 5, width: 835, height: 30, r: 4 }, style: { fill: "#fff", stroke: "#cccccc", lineWidth: 1 }, z: 10 });
  const LEG = [
    { x1: 120, tx: 167, label: METHODS[0], color: LINE_COLORS[0], dash: false },
    { x1: 233, tx: 281, label: METHODS[1], color: LINE_COLORS[1], dash: false },
    { x1: 425, tx: 471, label: METHODS[2], color: LINE_COLORS[2], dash: false },
    { x1: 548, tx: 593, label: METHODS[3], color: LINE_COLORS[3], dash: false },
    { x1: 718, tx: 763, label: TARGET_LABEL, color: TARGET_COLOR, dash: true },
  ];
  LEG.forEach((e) => {
    graphic.push({ type: "line", silent: true, z: 11, shape: { x1: e.x1, y1: LY, x2: e.x1 + 33, y2: LY }, style: { stroke: e.color, lineWidth: 1.5, lineDash: e.dash ? [4, 2.5] : null } });
    graphic.push({ type: "text", silent: true, z: 11, style: { text: e.label, x: e.tx, y: LY, textAlign: "left", textVerticalAlign: "middle", font: `16.7px "${FONT}"`, fill: "#000" } });
  });

  return {
    animation: false,
    backgroundColor: "#fff",
    textStyle: { fontFamily: FONT },
    grid, xAxis, yAxis, series, graphic,
  };
}

export default function App() {
  const ref = useRef<HTMLDivElement>(null);
  useEffect(() => {
    if (!ref.current) return;
    const chart = echarts.init(ref.current, undefined, { renderer: "svg" });
    chart.setOption(buildOption() as any);
    return () => chart.dispose();
  }, []);
  return <div ref={ref} style={{ position: "absolute", left: 0, top: 0, width: 1065, height: 914, background: "#fff" }} />;
}
